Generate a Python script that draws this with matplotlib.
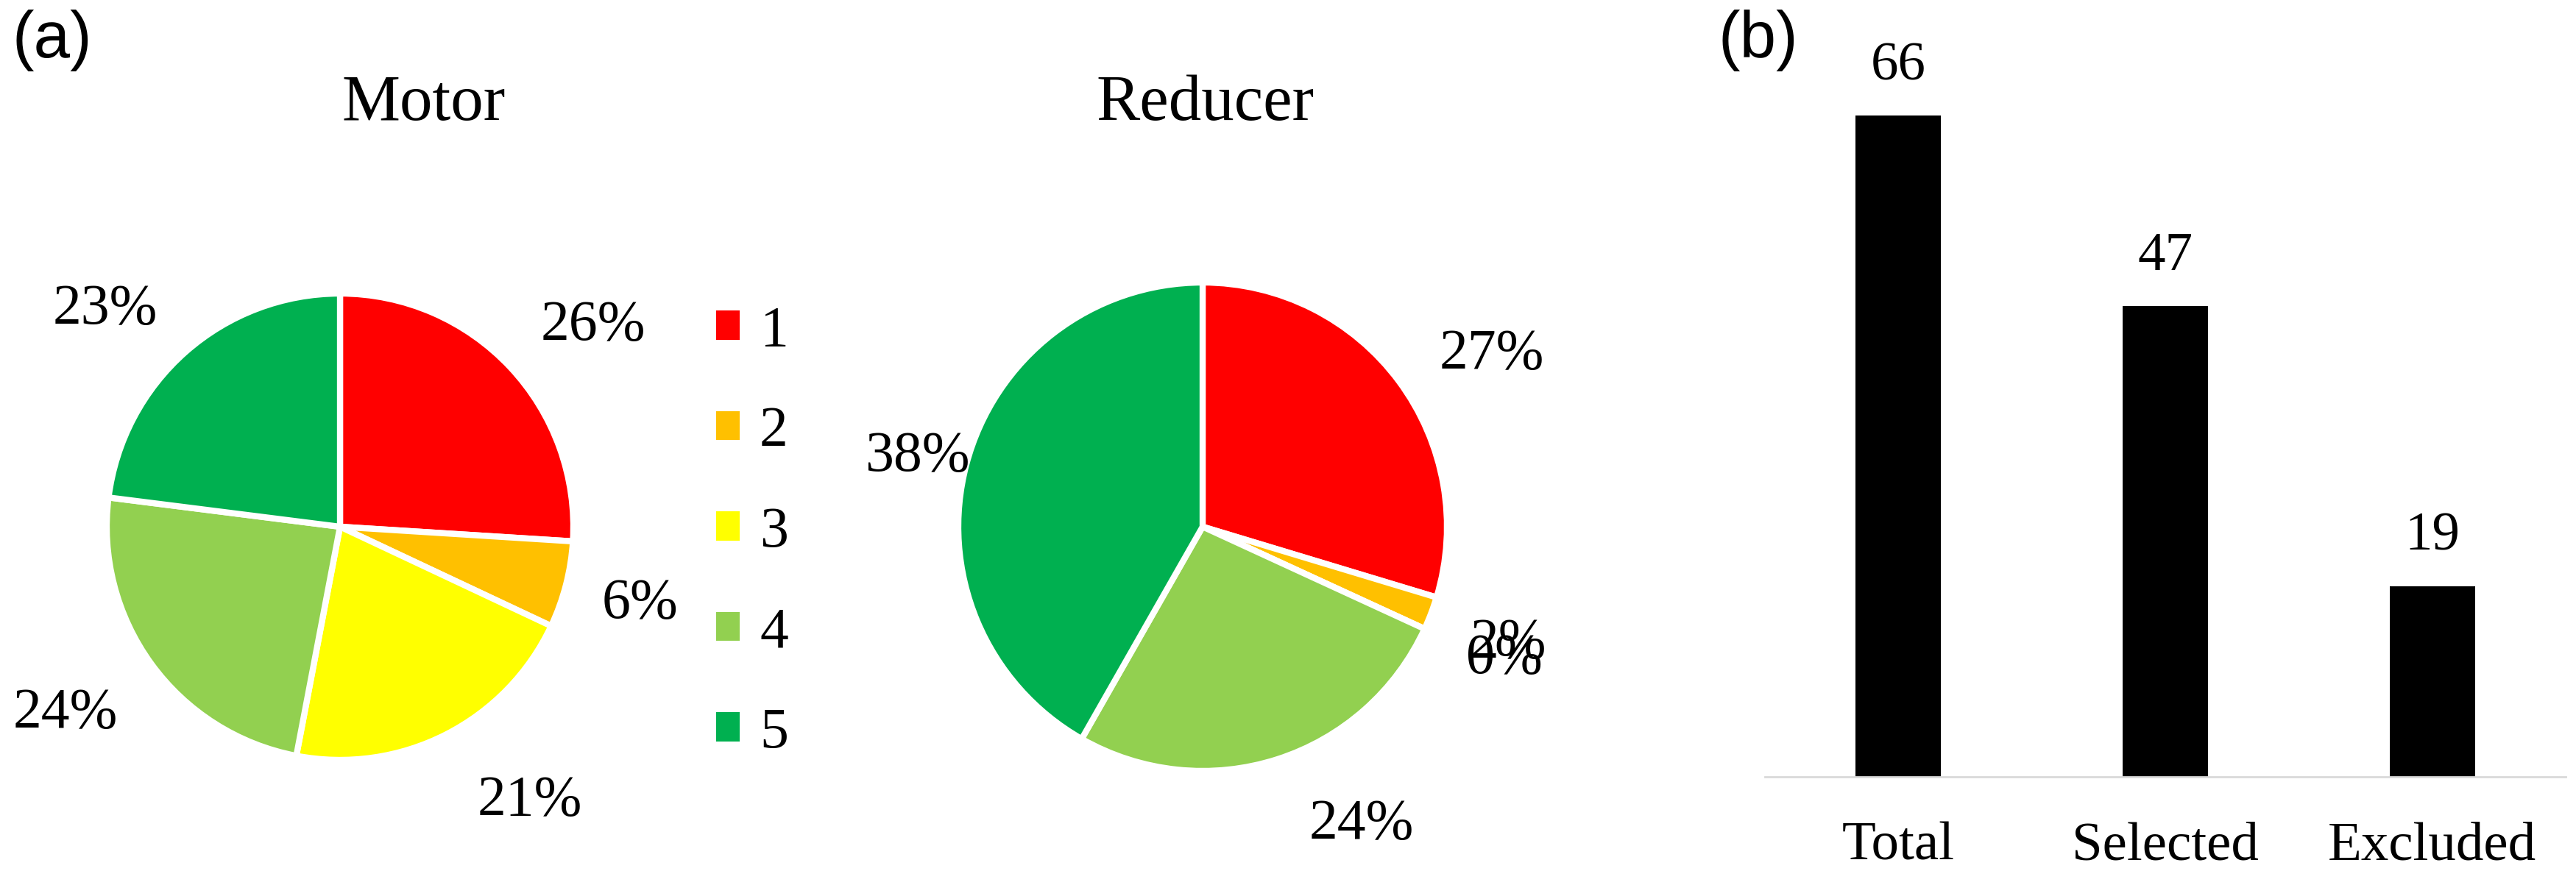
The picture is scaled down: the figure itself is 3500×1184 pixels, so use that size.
import matplotlib
matplotlib.use("Agg")
import matplotlib.pyplot as plt
from matplotlib.patches import Patch
import numpy as np

# ---------------- data ----------------
classes = ['1', '2', '3', '4', '5']
class_colors = ['#FF0000', '#FFC000', '#FFFF00', '#92D050', '#00B050']
motor_vals = [26, 6, 21, 24, 23]
reducer_vals = [27, 2, 0, 24, 38]
bar_cats = ['Total', 'Selected', 'Excluded']
bar_vals = [66, 47, 19]

# ---------------- layout (label placement: radial distance, angle nudge in deg) ----------------
motor_lab_dist = [1.40, 1.32, 1.41, 1.41, 1.39]
motor_lab_nudge = [-3.9, 1.0, 8.3, -2.7, 5.1]
reducer_lab_dist = [1.39, 1.33, 1.34, 1.36, 1.21]
reducer_lab_nudge = [-5.0, 0.8, 2.0, 10.7, -0.1]

# ---------------- figure ----------------
W, H = 3500, 1184
DPI = 200
fig = plt.figure(figsize=(W / DPI, H / DPI), dpi=DPI)
fig.patch.set_facecolor('white')

serif = ['Liberation Serif', 'DejaVu Serif']
sans = ['Liberation Sans', 'DejaVu Sans']
FS = 28


def pie_axes(cx, cy, r, lim):
    half = r * lim
    return fig.add_axes([(cx - half) / W, 1 - (cy + half) / H, 2 * half / W, 2 * half / H])


def draw_pie(ax, vals, lim, dists, nudges):
    wedges, _ = ax.pie(vals, colors=class_colors, startangle=90, counterclock=False,
                       wedgeprops=dict(edgecolor='white', linewidth=3))
    ax.set_xlim(-lim, lim)
    ax.set_ylim(-lim, lim)
    for w, v, d, n in zip(wedges, vals, dists, nudges):
        ang = np.deg2rad((w.theta1 + w.theta2) / 2 + n)
        ax.annotate(f'{v}%', (d * np.cos(ang), d * np.sin(ang)), xytext=(0, -3),
                    textcoords='offset points', ha='center', va='center',
                    fontsize=FS, family=serif, annotation_clip=False)
    return wedges


# Motor pie
ax1 = pie_axes(462, 716, 317, 1.46)
draw_pie(ax1, motor_vals, 1.46, motor_lab_dist, motor_lab_nudge)

# Reducer pie
ax2 = pie_axes(1634, 716, 332, 1.4)
draw_pie(ax2, reducer_vals, 1.4, reducer_lab_dist, reducer_lab_nudge)

# Legend
fig.legend(handles=[Patch(facecolor=c, edgecolor='none') for c in class_colors],
           labels=classes, loc='center left', bbox_to_anchor=(973 / W, 1 - 724 / H),
           frameon=False, prop={'family': serif, 'size': FS},
           handlelength=0.41, handleheight=0.41, handletextpad=0.35,
           labelspacing=0.836, borderpad=0, borderaxespad=0)

# Titles
fig.text(576 / W, 1 - 163 / H, 'Motor', ha='center', va='baseline', fontsize=32, family=serif)
fig.text(1638 / W, 1 - 163 / H, 'Reducer', ha='center', va='baseline', fontsize=32, family=serif)

# Panel letters
fig.text(17 / W, 1 - 55 / H, '(a)', ha='left', va='center', fontsize=32, family=sans)
fig.text(2335 / W, 1 - 55 / H, '(b)', ha='left', va='center', fontsize=32, family=sans)

# Bar chart
axb = fig.add_axes([2398 / W, 1 - 1056 / H, (3486 - 2398) / W, 0.805])
x = np.arange(len(bar_cats))
bars = axb.bar(x, bar_vals, width=0.32, color='black', edgecolor='none')
axb.set_xlim(-0.5, len(bar_cats) - 0.5)
axb.set_ylim(0, 70)
for s in ['top', 'right', 'left']:
    axb.spines[s].set_visible(False)
axb.spines['bottom'].set_color('#d9d9d9')
axb.spines['bottom'].set_linewidth(1.0)
axb.set_yticks([])
axb.set_xticks(x)
axb.set_xticklabels(bar_cats, fontsize=27, family=serif)
axb.tick_params(axis='x', length=0, pad=22)
for b, v in zip(bars, bar_vals):
    axb.annotate(str(v), (b.get_x() + b.get_width() / 2, b.get_height()),
                 xytext=(0, 12), textcoords='offset points', ha='center', va='bottom',
                 fontsize=27, family=serif)

fig.savefig('out.png', dpi=DPI, facecolor='white')
